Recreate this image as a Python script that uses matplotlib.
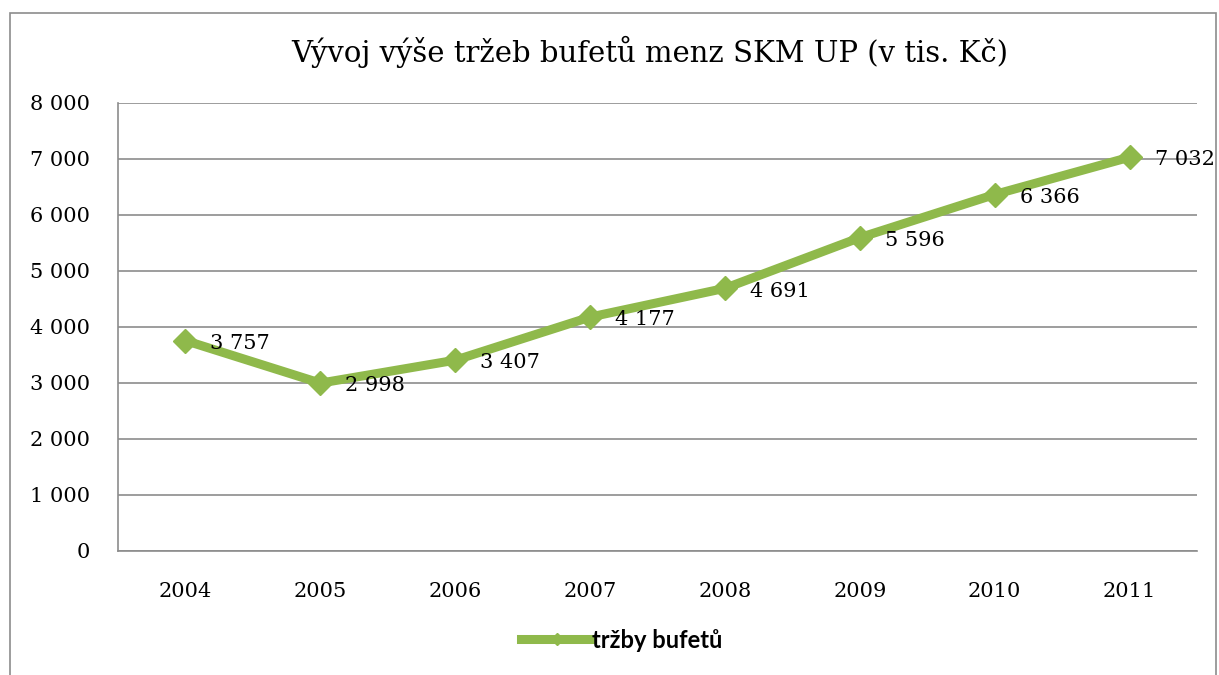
import matplotlib.pyplot as plt
from matplotlib.patches import Rectangle

years = ["2004", "2005", "2006", "2007", "2008", "2009", "2010", "2011"]
trzby = [3757, 2998, 3407, 4177, 4691, 5596, 6366, 7032]
labels = ["3 757", "2 998", "3 407", "4 177", "4 691", "5 596", "6 366", "7 032"]
yticks = [0, 1000, 2000, 3000, 4000, 5000, 6000, 7000, 8000]
ytick_labels = ["0", "1 000", "2 000", "3 000", "4 000", "5 000", "6 000", "7 000", "8 000"]

green = "#8fb94b"
serif = "DejaVu Serif"

fig = plt.figure(figsize=(12.19, 6.75), dpi=100)
fig.patches.append(Rectangle((10 / 1219, -0.05), 1206 / 1219, 1.05 - 13 / 675,
                             transform=fig.transFigure, fill=False,
                             edgecolor="#8c8c8c", lw=1.2))

ax = fig.add_axes([118 / 1219, 1 - 551 / 675, 1079 / 1219, 448 / 675])
x = list(range(len(years)))
ax.plot(x, trzby, color=green, lw=6.5, marker="D", markersize=12,
        markerfacecolor=green, markeredgecolor=green, label="tržby bufetů",
        solid_joinstyle="round")

for xi, v, lab in zip(x, trzby, labels):
    ax.annotate(lab, (xi, v), xytext=(18, -2), textcoords="offset points",
                ha="left", va="center", fontsize=15, family=serif)

ax.set_xlim(-0.5, 7.5)
ax.set_ylim(0, 8000)
ax.set_yticks(yticks)
ax.set_yticklabels(ytick_labels, family=serif, fontsize=15)
ax.set_xticks(x)
ax.set_xticklabels(years, family=serif, fontsize=15)
ax.yaxis.grid(True, color="#8c8c8c", lw=1.2)
ax.set_axisbelow(True)
ax.tick_params(length=0)
ax.tick_params(axis="y", pad=20)
ax.tick_params(axis="x", pad=22)
for s in ["top", "right"]:
    ax.spines[s].set_visible(False)
for s in ["left", "bottom"]:
    ax.spines[s].set_color("#8c8c8c")
    ax.spines[s].set_linewidth(1.2)

fig.suptitle("Vývoj výše tržeb bufetů menz SKM UP (v tis. Kč)", x=0.533, y=1 - 52 / 675,
             va="center", family=serif, fontsize=21)

fig.legend(loc="center", bbox_to_anchor=(0.51, 1 - 640 / 675), frameon=False,
           prop={"family": "Lato", "weight": "bold", "size": 17},
           handlelength=3.0, handletextpad=0.0, markerscale=0.55)

fig.savefig("out.png", dpi=100)
